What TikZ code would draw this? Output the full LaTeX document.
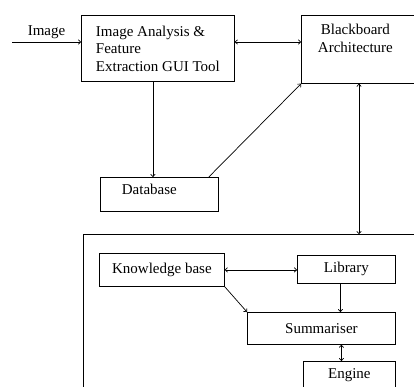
\documentclass[tikz,border=0pt]{standalone}
\usepackage{fontspec}
\setmainfont{Liberation Serif}
\usetikzlibrary{arrows.meta}
\tikzset{
    box/.style={draw, line width=0.8pt, rectangle, inner sep=0pt},
    arr/.style={line width=0.7pt, -{To[length=3pt, width=5pt]}},
    darr/.style={line width=0.7pt, {To[length=3pt, width=5pt]}-{To[length=3pt, width=5pt]}},
}
\begin{document}
\begin{tikzpicture}[x=1pt, y=-1pt, font=\fontsize{15}{17.5}\selectfont]
    \useasboundingbox (0,0) rectangle (414,387);
    \clip (0,0) rectangle (414,387);
    \node[box, anchor=north west, minimum width=153, minimum height=66, align=left] (ana) at (81,15) {Image Analysis \&\\Feature\\Extraction GUI Tool};
    \node[box, anchor=north west, minimum width=120, minimum height=68,
        label={[align=center, anchor=north, inner sep=0, xshift=-6pt, yshift=-9pt]north:Blackboard\\Architecture}] (bb) at (301,15) {};
    \node[box, anchor=north west, minimum width=118, minimum height=34,
        label={[inner sep=0, xshift=-10pt, yshift=5pt]center:Database}] (db) at (100,177) {};
    \node[box, anchor=north west, minimum width=340, minimum height=170] (sys) at (83,234) {};
    \node[box, anchor=north west, minimum width=125, minimum height=33] (kb) at (99,253) {Knowledge base};
    \node[box, anchor=north west, minimum width=98, minimum height=28] (lib) at (297,255) {Library};
    \node[box, anchor=north west, minimum width=148, minimum height=32] (sum) at (247,312) {Summariser};
    \node[box, anchor=north west, minimum width=92, minimum height=28] (eng) at (303,361) {Engine};
    \coordinate (in) at (12,42);
    \draw[arr] (in) -- (in -| ana.west) node[midway, above] {Image};
    \draw[darr] (in -| ana.east) -- (in -| bb.west);
    \draw[arr] ([xshift=-5pt]ana.south) -- ([xshift=-5pt]ana.south |- db.north);
    \draw[arr] ([xshift=-10pt]db.north east) -- (bb.south west);
    \draw[darr] ([xshift=58pt]bb.south west) -- ([xshift=58pt]bb.south west |- sys.north);
    \draw[darr] (kb.east) -- (kb.east -| lib.west);
    \draw[arr] (kb.south east) -- (sum.north west);
    \draw[arr] ([xshift=-6pt]lib.south) -- ([xshift=-6pt]lib.south |- sum.north);
    \draw[darr] ([xshift=20pt]sum.south) -- ([xshift=20pt]sum.south |- eng.north);
\end{tikzpicture}
\end{document}
